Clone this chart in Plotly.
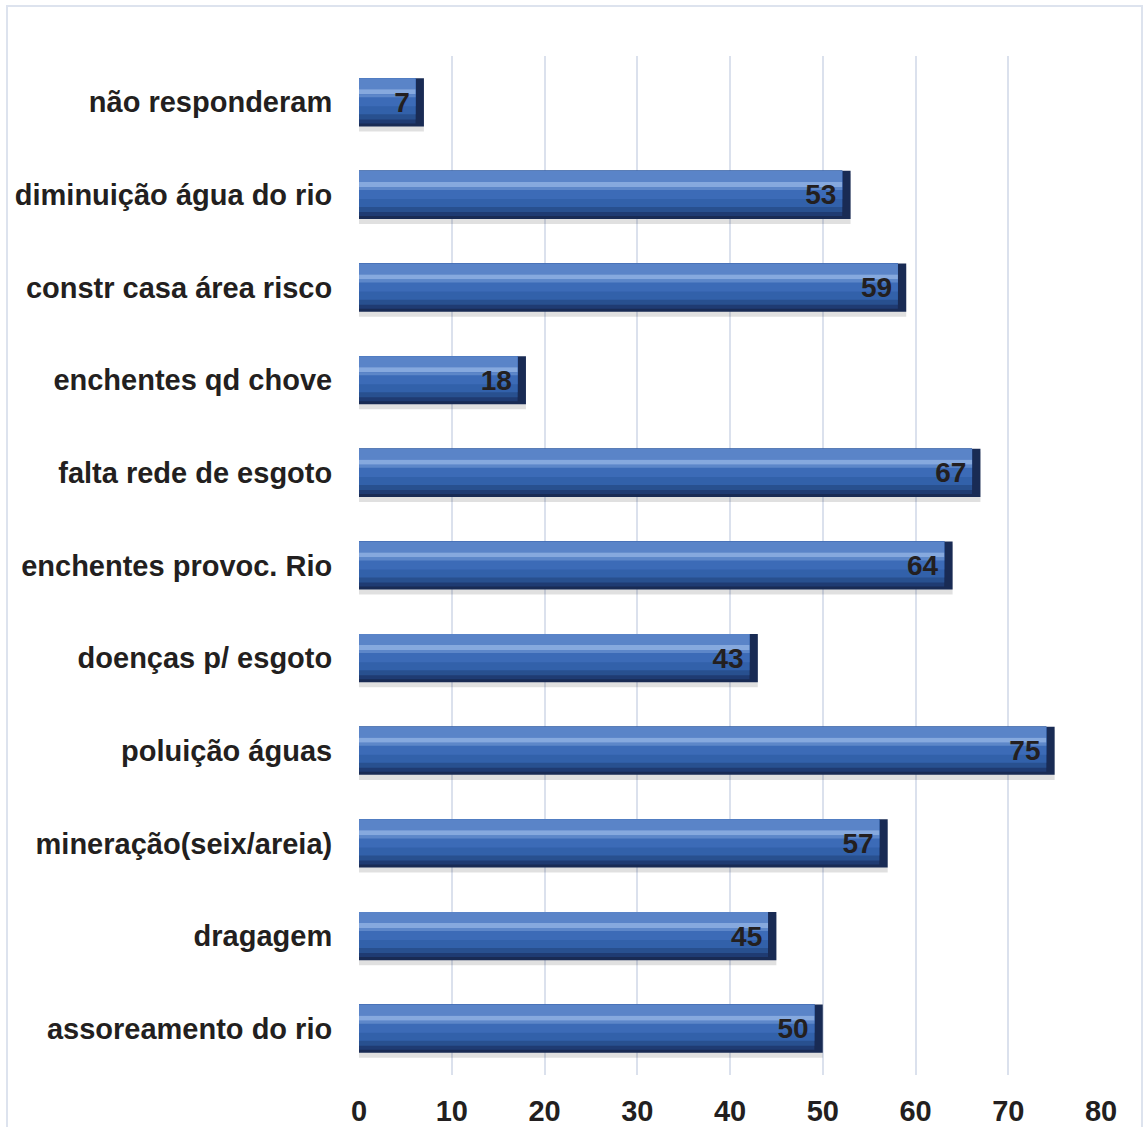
import plotly.graph_objects as go

categories = [
    "não responderam",
    "diminuição água do rio",
    "constr casa área risco",
    "enchentes qd chove",
    "falta rede de esgoto",
    "enchentes provoc. Rio",
    "doenças p/ esgoto",
    "poluição águas",
    "mineração(seix/areia)",
    "dragagem",
    "assoreamento do rio",
]
values = [7, 53, 59, 18, 67, 64, 43, 75, 57, 45, 50]
x_ticks = [0, 10, 20, 30, 40, 50, 60, 70, 80]

FONT = "Liberation Sans, Arial, sans-serif"
BAR_W = 0.52
U = BAR_W / 48.0  # one pixel of bar thickness in category units
END = 0.9         # right-end bevel length in value units
LABEL_PAD = 1.2   # label inset from bar end, value units

fig = go.Figure()

def layer(p0, p1, color, inset=True):
    xs = [v - END if inset else v for v in values]
    fig.add_trace(go.Bar(
        y=categories, x=xs, orientation="h",
        width=(p1 - p0) * U, offset=-BAR_W / 2 + p0 * U,
        marker=dict(color=color, line=dict(width=0)),
        hoverinfo="skip", showlegend=False,
    ))

# shadow
layer(3, 53, "rgba(0,0,0,0.12)", inset=False)
# bevel body
layer(0, 48, "#192b54", inset=False)
layer(0, 45, "#1f3b72", inset=True)
layer(0, 41, "#28508f", inset=True)
layer(0, 36, "#3261aa", inset=True)
layer(0, 28, "#3c6bb7", inset=True)
layer(0, 11, "#5a84c8", inset=True)
layer(11, 16, "#86a9de", inset=True)
layer(16, 19, "#5d87c9", inset=True)
# labels
fig.add_trace(go.Bar(
    y=categories, x=[v - LABEL_PAD for v in values], orientation="h",
    width=BAR_W, offset=-BAR_W / 2,
    marker=dict(color="rgba(0,0,0,0)", line=dict(width=0)),
    text=[f"<b>{v}</b>" for v in values],
    textposition="inside", insidetextanchor="end",
    textfont=dict(family=FONT, size=28, color="#231f20"),
    constraintext="none", cliponaxis=False,
    hoverinfo="skip", showlegend=False,
))

fig.update_layout(
    width=1143, height=1127,
    margin=dict(l=359, r=42, t=56, b=52),
    paper_bgcolor="white", plot_bgcolor="white",
    barmode="overlay",
    font=dict(family=FONT, color="#231f20"),
    xaxis=dict(
        range=[0, 80], tickvals=x_ticks, ticktext=[f"<b>{t}</b>" for t in x_ticks],
        showgrid=True, gridcolor="rgba(190,200,222,0.55)", gridwidth=1.5,
        zeroline=False, showline=False, layer="above traces",
        ticks="outside", ticklen=10, tickcolor="rgba(0,0,0,0)",
        tickfont=dict(size=29, color="#231f20"),
        automargin=False, fixedrange=True,
    ),
    yaxis=dict(
        categoryorder="array", categoryarray=categories, autorange="reversed",
        tickvals=categories, ticktext=[f"<b>{c}</b>" for c in categories],
        showgrid=False, zeroline=False, showline=False,
        ticks="outside", ticklen=20, tickcolor="rgba(0,0,0,0)",
        tickfont=dict(size=29, color="#231f20"),
        automargin=False, fixedrange=True,
    ),
    shapes=[dict(
        type="rect", xref="paper", yref="paper",
        x0=(7 - 359) / 742, x1=(1142 - 359) / 742,
        y0=-120 / 1019, y1=(1075 - 6) / 1019,
        line=dict(color="#dde3ee", width=2), fillcolor="rgba(0,0,0,0)", layer="below",
    )],
)

fig.write_html("out.html")
